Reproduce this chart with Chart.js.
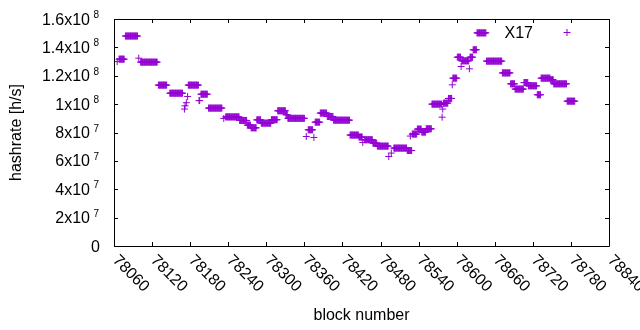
<!DOCTYPE html>
<html>
<head>
<meta charset="utf-8">
<script src="https://cdn.jsdelivr.net/npm/chart.js@4/dist/chart.umd.min.js"></script>
<style>
  html, body { margin: 0; padding: 0; background: #fff; }
  #wrap { width: 640px; height: 330px; }
</style>
</head>
<body>
<div id="wrap"><canvas id="chart"></canvas></div>
<script>
// Series name
const seriesName = 'X17';

// Runs of blocks with the same hashrate: first block, last block, hashrate [h/s]
const runStart = [
    78065, 78068, 78078, 78099, 78102, 78130, 78148, 78171, 78172, 78174,
    78176, 78177, 78194, 78197, 78209, 78233, 78236, 78258, 78270, 78276,
    78285, 78292, 78308, 78318, 78331, 78334, 78363, 78366, 78375, 78377,
    78385, 78396, 78406, 78432, 78446, 78452, 78455, 78468, 78475, 78493,
    78497, 78501, 78522, 78527, 78530, 78538, 78545, 78552, 78561, 78577,
    78578, 78579, 78587, 78593, 78594, 78601, 78607, 78608, 78620, 78621,
    78626, 78632, 78647, 78672, 78685, 78692, 78706, 78713, 78727, 78733,
    78748, 78753, 78774
];
const runEnd = [
    78065, 78076, 78097, 78099, 78128, 78143, 78168, 78171, 78172, 78174,
    78176, 78193, 78195, 78207, 78230, 78233, 78257, 78269, 78275, 78284,
    78291, 78307, 78317, 78330, 78333, 78360, 78363, 78373, 78375, 78384,
    78395, 78405, 78431, 78445, 78451, 78452, 78467, 78474, 78492, 78493,
    78497, 78521, 78529, 78527, 78537, 78544, 78551, 78560, 78576, 78577,
    78578, 78586, 78592, 78593, 78600, 78606, 78607, 78619, 78620, 78625,
    78631, 78646, 78671, 78684, 78691, 78705, 78712, 78726, 78732, 78747,
    78752, 78773, 78786
];
const runHashrate = [
    130.0e6, 131.7e6, 148.0e6, 132.4e6, 129.6e6, 113.4e6, 107.7e6, 96.5e6, 98.8e6, 101.0e6,
    105.4e6, 113.4e6, 102.5e6, 107.0e6, 97.2e6, 89.9e6, 91.0e6, 88.5e6, 85.2e6, 83.3e6,
    88.9e6, 86.6e6, 89.0e6, 95.3e6, 92.5e6, 90.0e6, 77.2e6, 81.9e6, 76.5e6, 87.3e6,
    93.7e6, 91.3e6, 88.7e6, 78.2e6, 76.8e6, 73.0e6, 74.9e6, 72.5e6, 70.4e6, 63.1e6,
    65.5e6, 69.0e6, 67.3e6, 77.5e6, 78.9e6, 82.4e6, 80.3e6, 82.6e6, 100.0e6, 90.8e6,
    96.5e6, 100.7e6, 104.0e6, 113.6e6, 118.3e6, 133.1e6, 126.5e6, 130.5e6, 124.9e6, 133.1e6,
    138.3e6, 150.2e6, 130.3e6, 122.0e6, 114.3e6, 110.6e6, 115.2e6, 112.9e6, 106.6e6, 118.3e6,
    117.2e6, 114.3e6, 102.1e6
];

// Axis ticks
const xTicks = [78060, 78120, 78180, 78240, 78300, 78360, 78420, 78480, 78540, 78600, 78660, 78720, 78780, 78840];
const yTicks = [0, 2e7, 4e7, 6e7, 8e7, 1e8, 1.2e8, 1.4e8, 1.6e8];
const yTickMantissa = ['0', '2x10', '4x10', '6x10', '8x10', '1x10', '1.2x10', '1.4x10', '1.6x10'];
const yTickExponent = ['', '7', '7', '7', '7', '8', '8', '8', '8'];

const violet = '#9400d3';
const fontFamily = '"Liberation Sans", Arial, sans-serif';

/**
 * one point per block from the runs
 */
function buildPoints() {
    const points = [];
    for (let i = 0; i < runStart.length; i++) {
        for (let b = runStart[i]; b <= runEnd[i]; b++) {
            points.push({ x: b, y: runHashrate[i] });
        }
    }
    return points;
}

/**
 * gnuplot style frame: border, inward ticks on all sides, labels, key
 */
const gnuplotFrame = {
    id: 'gnuplotFrame',
    afterDraw(chart) {
        const { ctx, chartArea: a, scales } = chart;
        const xs = scales.x, ys = scales.y;
        const tick = 4;

        ctx.save();
        ctx.strokeStyle = '#000';
        ctx.lineWidth = 1;
        ctx.beginPath();
        ctx.rect(Math.round(a.left) + 0.5, Math.round(a.top) + 0.5,
                 Math.round(a.right - a.left), Math.round(a.bottom - a.top));
        for (const v of xTicks) {
            const px = Math.round(xs.getPixelForValue(v)) + 0.5;
            ctx.moveTo(px, a.bottom); ctx.lineTo(px, a.bottom - tick);
            ctx.moveTo(px, a.top); ctx.lineTo(px, a.top + tick);
        }
        for (const v of yTicks) {
            const py = Math.round(ys.getPixelForValue(v)) + 0.5;
            ctx.moveTo(a.left, py); ctx.lineTo(a.left + tick, py);
            ctx.moveTo(a.right, py); ctx.lineTo(a.right - tick, py);
        }
        ctx.stroke();

        ctx.fillStyle = '#000';

        // y labels with raised exponent
        yTicks.forEach((v, i) => {
            const py = ys.getPixelForValue(v);
            ctx.textBaseline = 'alphabetic';
            if (!yTickExponent[i]) {
                ctx.font = '16px ' + fontFamily;
                ctx.textAlign = 'right';
                ctx.fillText(yTickMantissa[i], a.left - 14, py + 5.5);
                return;
            }
            ctx.font = '16px ' + fontFamily;
            ctx.textAlign = 'right';
            ctx.fillText(yTickMantissa[i], a.left - 24, py + 5.5);
            ctx.font = '10px ' + fontFamily;
            ctx.textAlign = 'left';
            ctx.fillText(yTickExponent[i], a.left - 20.5, py - 1);
        });

        // x labels rotated down-right
        ctx.font = '16px ' + fontFamily;
        ctx.textAlign = 'left';
        ctx.textBaseline = 'middle';
        for (const v of xTicks) {
            const px = xs.getPixelForValue(v);
            ctx.save();
            ctx.translate(px + 1, a.bottom + 12);
            ctx.rotate(Math.PI / 4);
            ctx.fillText(String(v), 0, 0);
            ctx.restore();
        }

        // key
        ctx.textAlign = 'right';
        ctx.textBaseline = 'alphabetic';
        ctx.fillText(seriesName, 533, 37.5);
        ctx.strokeStyle = violet;
        ctx.beginPath();
        ctx.moveTo(563.5, 32.5); ctx.lineTo(570.5, 32.5);
        ctx.moveTo(567, 29); ctx.lineTo(567, 36);
        ctx.stroke();

        ctx.restore();
    }
};

const chart = new Chart(document.getElementById('chart'), {
    type: 'scatter',
    data: {
        datasets: [{
            label: seriesName,
            data: buildPoints(),
            pointStyle: 'cross',
            pointRadius: 3.5,
            pointBorderWidth: 1,
            borderColor: violet,
            backgroundColor: violet,
        }]
    },
    options: {
        responsive: true,
        maintainAspectRatio: false,
        animation: false,
        events: [],
        layout: {
            padding: { left: 0, right: 31, top: 19, bottom: 0 }
        },
        plugins: {
            legend: { display: false },
            tooltip: { enabled: false }
        },
        scales: {
            x: {
                type: 'linear',
                min: 78060,
                max: 78840,
                ticks: { display: false, stepSize: 60 },
                grid: { display: false },
                border: { display: false },
                title: {
                    display: true,
                    text: 'block number',
                    color: '#000',
                    font: { family: fontFamily, size: 16 },
                    padding: { top: 4, bottom: 5 }
                },
                afterFit: (s) => { s.height = 84; }
            },
            y: {
                min: 0,
                max: 1.6e8,
                ticks: { display: false, stepSize: 2e7 },
                grid: { display: false },
                border: { display: false },
                title: {
                    display: true,
                    text: 'hashrate [h/s]',
                    color: '#000',
                    font: { family: fontFamily, size: 16 },
                    padding: { top: 7, bottom: 4 }
                },
                afterFit: (s) => { s.width = 114; }
            }
        }
    },
    plugins: [gnuplotFrame]
});
</script>
</body>
</html>
